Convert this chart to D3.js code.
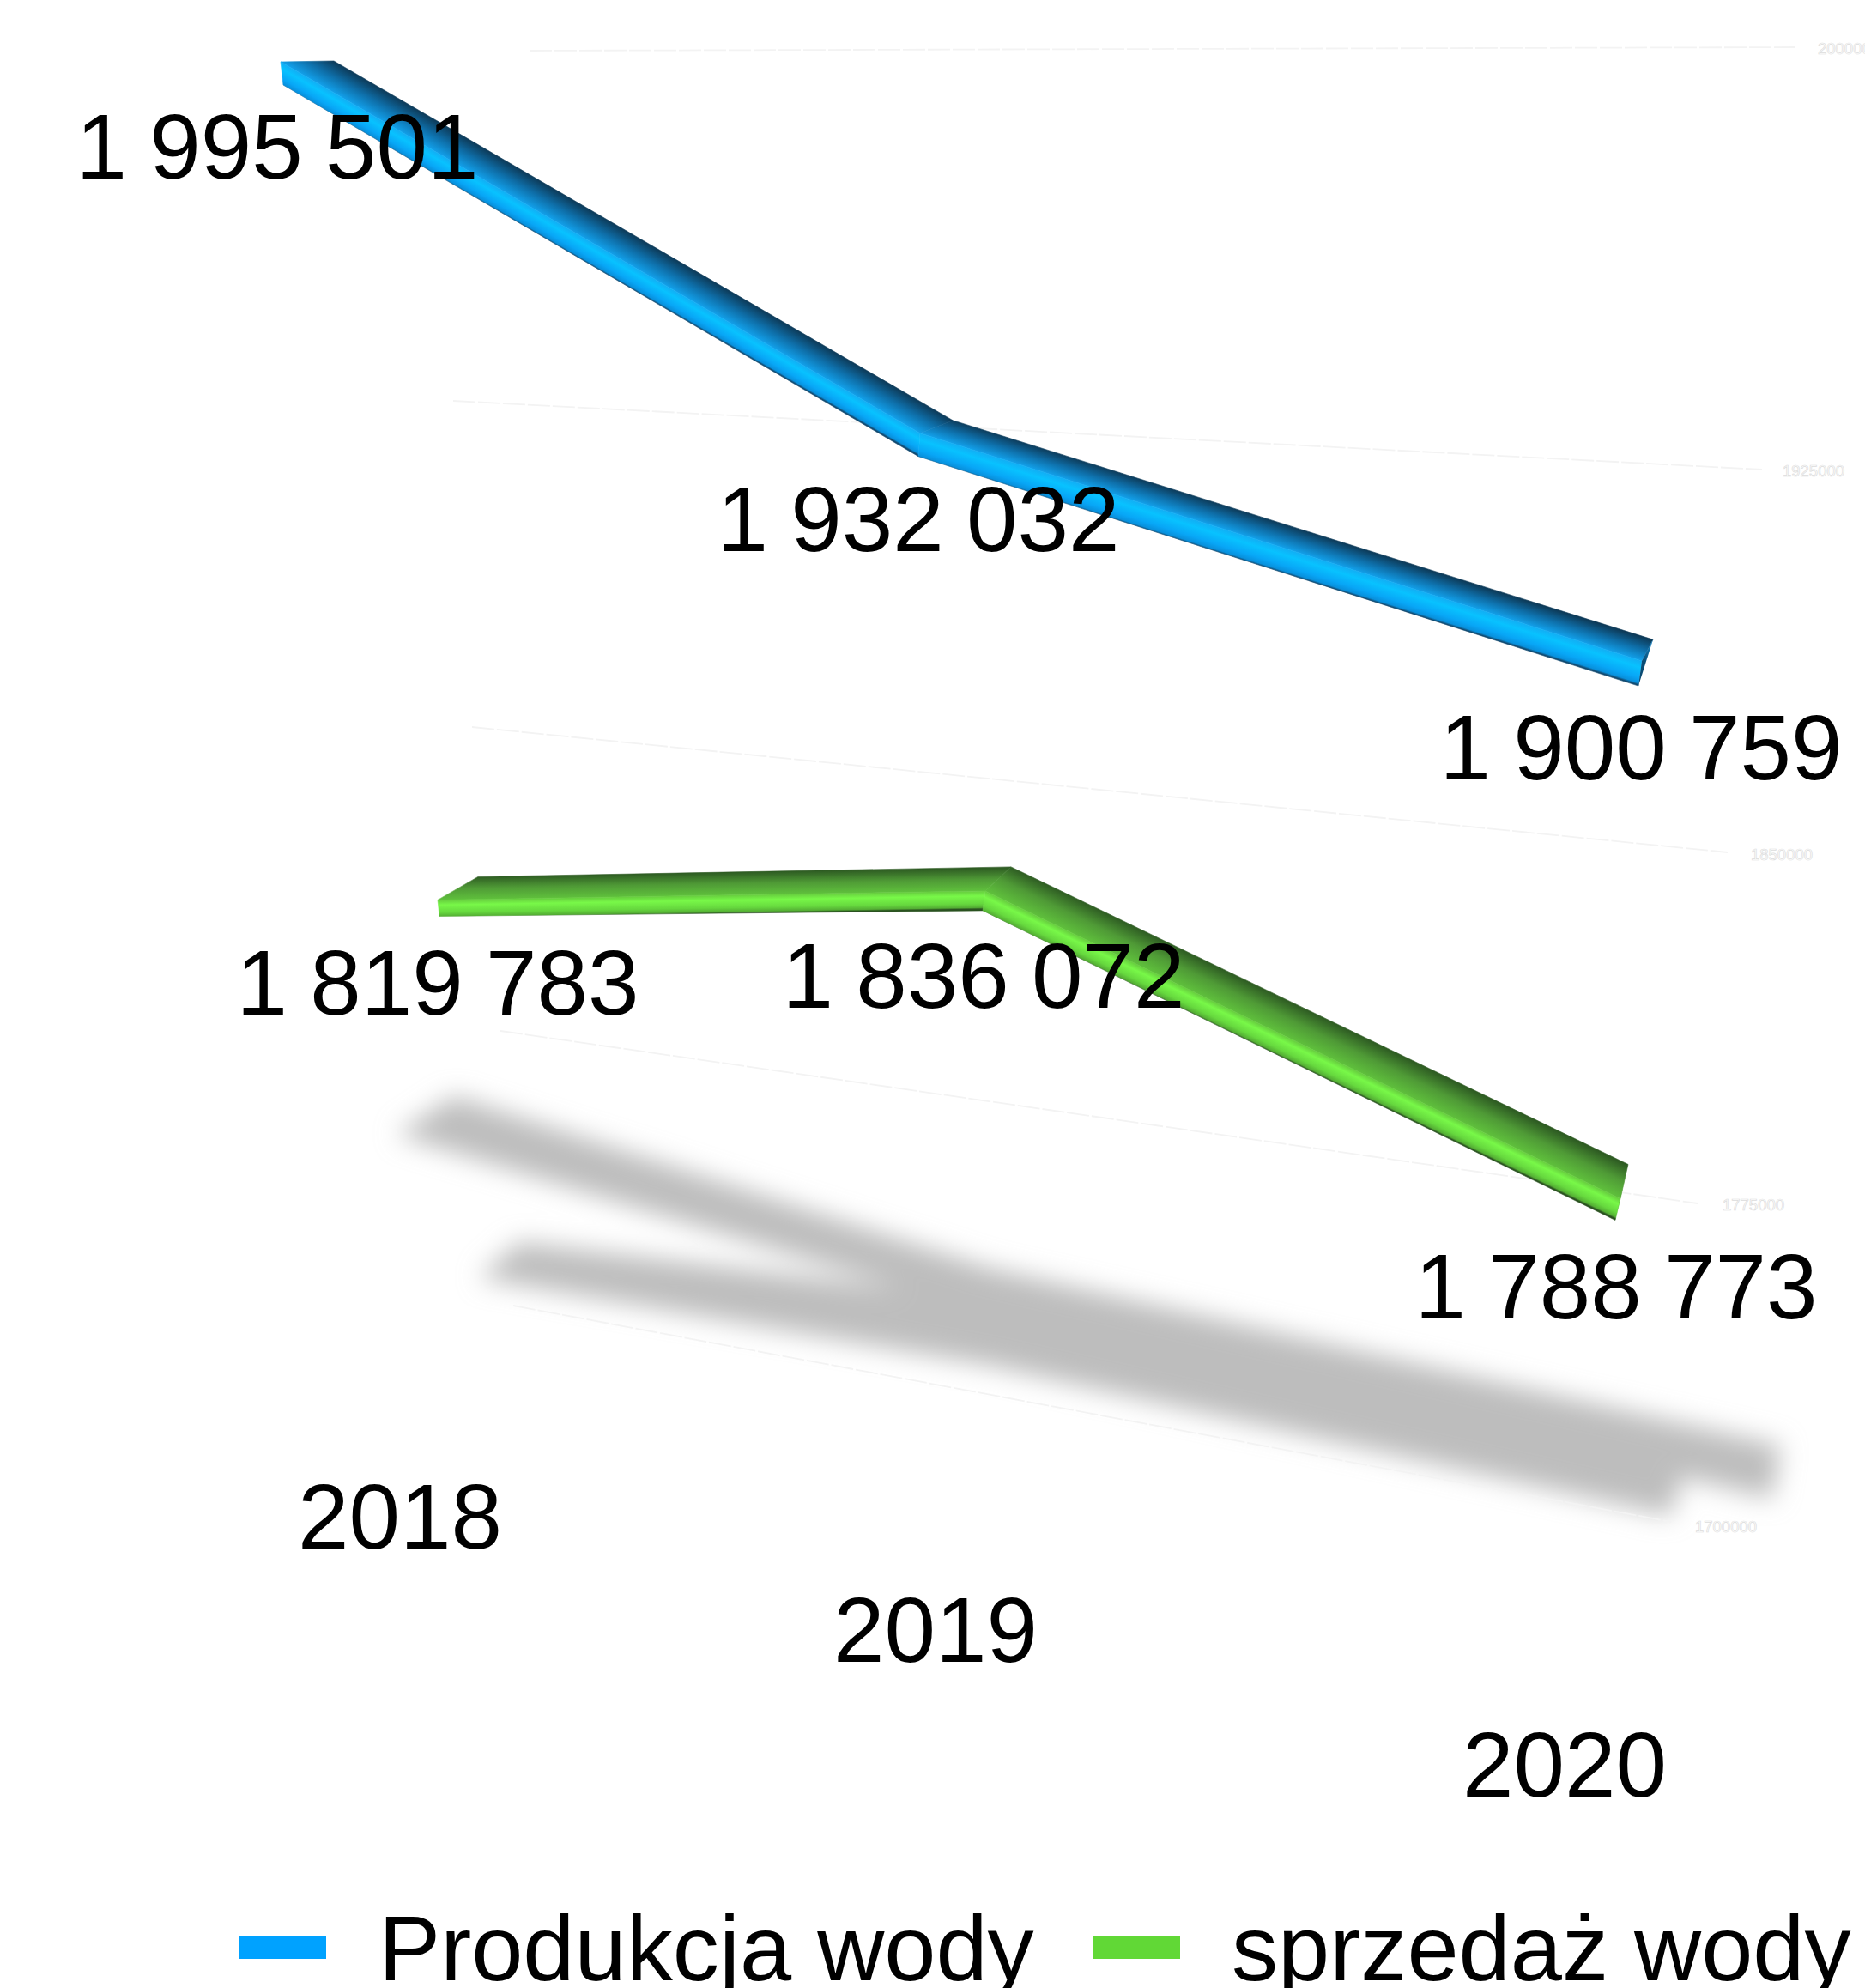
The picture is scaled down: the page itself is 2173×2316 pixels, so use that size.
<!DOCTYPE html>
<html lang="pl">
<head>
<meta charset="utf-8">
<title>Produkcja i sprzedaż wody</title>
<script src="https://cdnjs.cloudflare.com/ajax/libs/d3/7.8.5/d3.min.js"></script>
<style>
html,body{margin:0;padding:0;background:#fff;overflow:hidden}
svg{display:block}
text{font-family:"Liberation Sans",Arial,sans-serif}
</style>
</head>
<body>
<div id="chart"></div>
<script>
// ---- data ----
const categories = ["2018", "2019", "2020"];
const seriesNames = ["Produkcja wody", "sprzedaż wody"];
const produkcja = [1995501, 1932032, 1900759];
const sprzedaz = [1819783, 1836072, 1788773];
const tickValues = [2000000, 1925000, 1850000, 1775000, 1700000];

// ---- layout: the perspective of the 3D plot, expressed as scales ----
const W = 2173, H = 2316;
const ord = r => d3.scaleOrdinal().domain(categories).range(r);
// Each category sits at its own depth, so each has its own value axis.
const yScale = {
  "2018": d3.scaleLinear().domain([1700000, 2000000]).range([1714, 47]),
  "2019": d3.scaleLinear().domain([1700000, 2000000]).range([1794, 127]),
  "2020": d3.scaleLinear().domain([1700000, 2000000]).range([1893, 215])
};
const blueGeom = {
  x: ord([327, 1072, 1913]),
  backDx: ord([62, 38, 13]), backDy: ord([-1, -15, -25]),
  botDx: ord([3, -2, -4]), botDy: ord([27, 27, 29]),
  labelDx: ord([-4, -2, -1]), labelDy: ord([136, 137, 138])
};
const greenGeom = {
  x: ord([510, 1148, 1888]),
  backDx: ord([47, 30, 9]), backDy: ord([-27, -28, -40]),
  botDx: ord([2, -3, -6]), botDy: ord([19, 23, 25]),
  labelDx: ord([0, -2, -5]), labelDy: ord([134, 136, 140])
};
const blueShadow = {
  backX: ord([529, 1152, 2075]), backY: ord([1277, 1477, 1684]),
  frontX: ord([462, 1071, 2065]), frontY: ord([1322, 1507, 1746])
};
const greenShadow = {
  backX: ord([605, 1170, 1965]), backY: ord([1447, 1515, 1700]),
  frontX: ord([558, 1150, 1947]), frontY: ord([1489, 1590, 1766])
};
const catLabelX = ord([466, 1090, 1823]);
const catLabelY = ord([1804, 1936, 2093]);
const gridLeftX = d3.scaleLinear().domain(tickValues).range([617, 528, 550, 583, 598]);
const gridLeftY = d3.scaleLinear().domain(tickValues).range([59, 467, 847, 1201, 1521]);
const gridRightX = d3.scaleLinear().domain(tickValues).range([2092, 2053, 2013, 1978, 1947]);
const gridRightY = d3.scaleLinear().domain(tickValues).range([55, 547, 993, 1402, 1773]);
const tickLabelX = d3.scaleLinear().domain(tickValues).range([2118, 2077, 2040, 2007, 1975]);
const tickLabelY = d3.scaleLinear().domain(tickValues).range([63, 555, 1002, 1410, 1785]);
const FS = 107;

const seriesStyles = [
  { values: produkcja, geom: blueGeom, shadow: blueShadow, swatch: "#00a2ff",
    top: [[0, "#0d3a58"], [0.5, "#0e6ea8"], [1, "#12a0ea"]],
    front: [[0, "#12aef4"], [0.28, "#08c2ff"], [0.7, "#08a6f6"], [0.92, "#0890dc"], [1, "#124a70"]],
    cap: [[0, "#1288cc"], [1, "#0b4c74"]], legendSwatchX: 278, legendTextX: 441 },
  { values: sprzedaz, geom: greenGeom, shadow: greenShadow, swatch: "#61d836",
    top: [[0, "#2d5a22"], [0.5, "#4f9a36"], [1, "#5fc03c"]],
    front: [[0, "#66cc3e"], [0.28, "#78f848"], [0.7, "#66d83e"], [0.92, "#54ae34"], [1, "#2a5220"]],
    cap: [[0, "#5fb63a"], [1, "#2f5a22"]], legendSwatchX: 1273, legendTextX: 1435 }
];

// ---- drawing ----
const svg = d3.select("#chart").append("svg").attr("width", W).attr("height", H).attr("viewBox", `0 0 ${W} ${H}`);
svg.append("rect").attr("width", W).attr("height", H).attr("fill", "#fff");
const defs = svg.append("defs");
defs.append("filter").attr("id", "blur").attr("x", "-10%").attr("y", "-30%").attr("width", "120%").attr("height", "160%")
  .append("feGaussianBlur").attr("stdDeviation", 15);

// shadows
const shadowG = svg.append("g").attr("filter", "url(#blur)");
seriesStyles.forEach(s => {
  const pts = categories.map(c => [s.shadow.backX(c), s.shadow.backY(c)])
    .concat(categories.slice().reverse().map(c => [s.shadow.frontX(c), s.shadow.frontY(c)]));
  shadowG.append("path").attr("d", d3.line()(pts) + "Z").attr("fill", "#bdbdbd");
});

// gridlines
svg.append("g").selectAll("line").data(tickValues).join("line")
  .attr("x1", gridLeftX).attr("y1", gridLeftY).attr("x2", gridRightX).attr("y2", gridRightY)
  .attr("stroke", "#f3f3f3").attr("stroke-width", 1.8).attr("stroke-dasharray", "26 3");

// tick labels: outlined, nearly invisible
svg.append("g").selectAll("text").data(tickValues).join("text")
  .attr("x", tickLabelX).attr("y", tickLabelY)
  .attr("font-size", 18.5).attr("fill", "#fff").attr("stroke", "#dcdcdc").attr("stroke-width", 0.7)
  .text(d => d);

// 3D ribbons
let gid = 0;
function gradient(stops, a, b) {
  const id = "g" + (gid++);
  const g = defs.append("linearGradient").attr("id", id).attr("gradientUnits", "userSpaceOnUse")
    .attr("x1", a[0]).attr("y1", a[1]).attr("x2", b[0]).attr("y2", b[1]);
  g.selectAll("stop").data(stops).join("stop").attr("offset", d => d[0]).attr("stop-color", d => d[1]);
  return `url(#${id})`;
}
function foot(p, a, b) {
  const dx = b[0] - a[0], dy = b[1] - a[1];
  const t = ((p[0] - a[0]) * dx + (p[1] - a[1]) * dy) / (dx * dx + dy * dy);
  return [a[0] + t * dx, a[1] + t * dy];
}
const mid = (a, b) => [(a[0] + b[0]) / 2, (a[1] + b[1]) / 2];
const ribbons = svg.append("g");
seriesStyles.forEach(s => {
  const crease = categories.map((c, i) => [s.geom.x(c), yScale[c](s.values[i])]);
  const back = categories.map((c, i) => [crease[i][0] + s.geom.backDx(c), crease[i][1] + s.geom.backDy(c)]);
  const bot = categories.map((c, i) => [crease[i][0] + s.geom.botDx(c), crease[i][1] + s.geom.botDy(c)]);
  d3.range(categories.length - 1).forEach(i => {
    const pb = mid(back[i], back[i + 1]), fb = foot(pb, crease[i], crease[i + 1]);
    const top = gradient(s.top, pb, fb);
    ribbons.append("path").attr("d", d3.line()([back[i], back[i + 1], crease[i + 1], crease[i]]) + "Z")
      .attr("fill", top).attr("stroke", top).attr("stroke-width", 0.6);
    const pf = mid(bot[i], bot[i + 1]), ff = foot(pf, crease[i], crease[i + 1]);
    const fr = gradient(s.front, ff, pf);
    ribbons.append("path").attr("d", d3.line()([crease[i], crease[i + 1], bot[i + 1], bot[i]]) + "Z")
      .attr("fill", fr).attr("stroke", fr).attr("stroke-width", 0.6).attr("stroke-linejoin", "round");
  });
  const n = categories.length - 1;
  ribbons.append("path").attr("d", d3.line()([back[n], crease[n], bot[n]]) + "Z")
    .attr("fill", gradient(s.cap, back[n], crease[n]));
});

// data labels
const fmt = d3.formatLocale({ thousands: " ", grouping: [3], decimal: ",", currency: ["", ""] }).format(",");
seriesStyles.forEach(s => {
  svg.append("g").selectAll("text").data(s.values).join("text")
    .attr("x", (d, i) => s.geom.x(categories[i]) + s.geom.labelDx(categories[i]))
    .attr("y", (d, i) => yScale[categories[i]](d) + s.geom.labelDy(categories[i]))
    .attr("text-anchor", "middle").attr("font-size", FS).attr("word-spacing", -3.5).attr("fill", "#000")
    .text(d => fmt(d));
});

// category labels
svg.append("g").selectAll("text").data(categories).join("text")
  .attr("x", catLabelX).attr("y", catLabelY)
  .attr("text-anchor", "middle").attr("font-size", FS).attr("fill", "#000")
  .text(d => d);

// legend
const legend = svg.append("g");
seriesStyles.forEach((s, i) => {
  legend.append("rect").attr("x", s.legendSwatchX).attr("y", 2255).attr("width", 102).attr("height", 27).attr("fill", s.swatch);
  legend.append("text").attr("x", s.legendTextX).attr("y", 2307).attr("font-size", 108.2).attr("fill", "#000").text(seriesNames[i]);
});
</script>
</body>
</html>
